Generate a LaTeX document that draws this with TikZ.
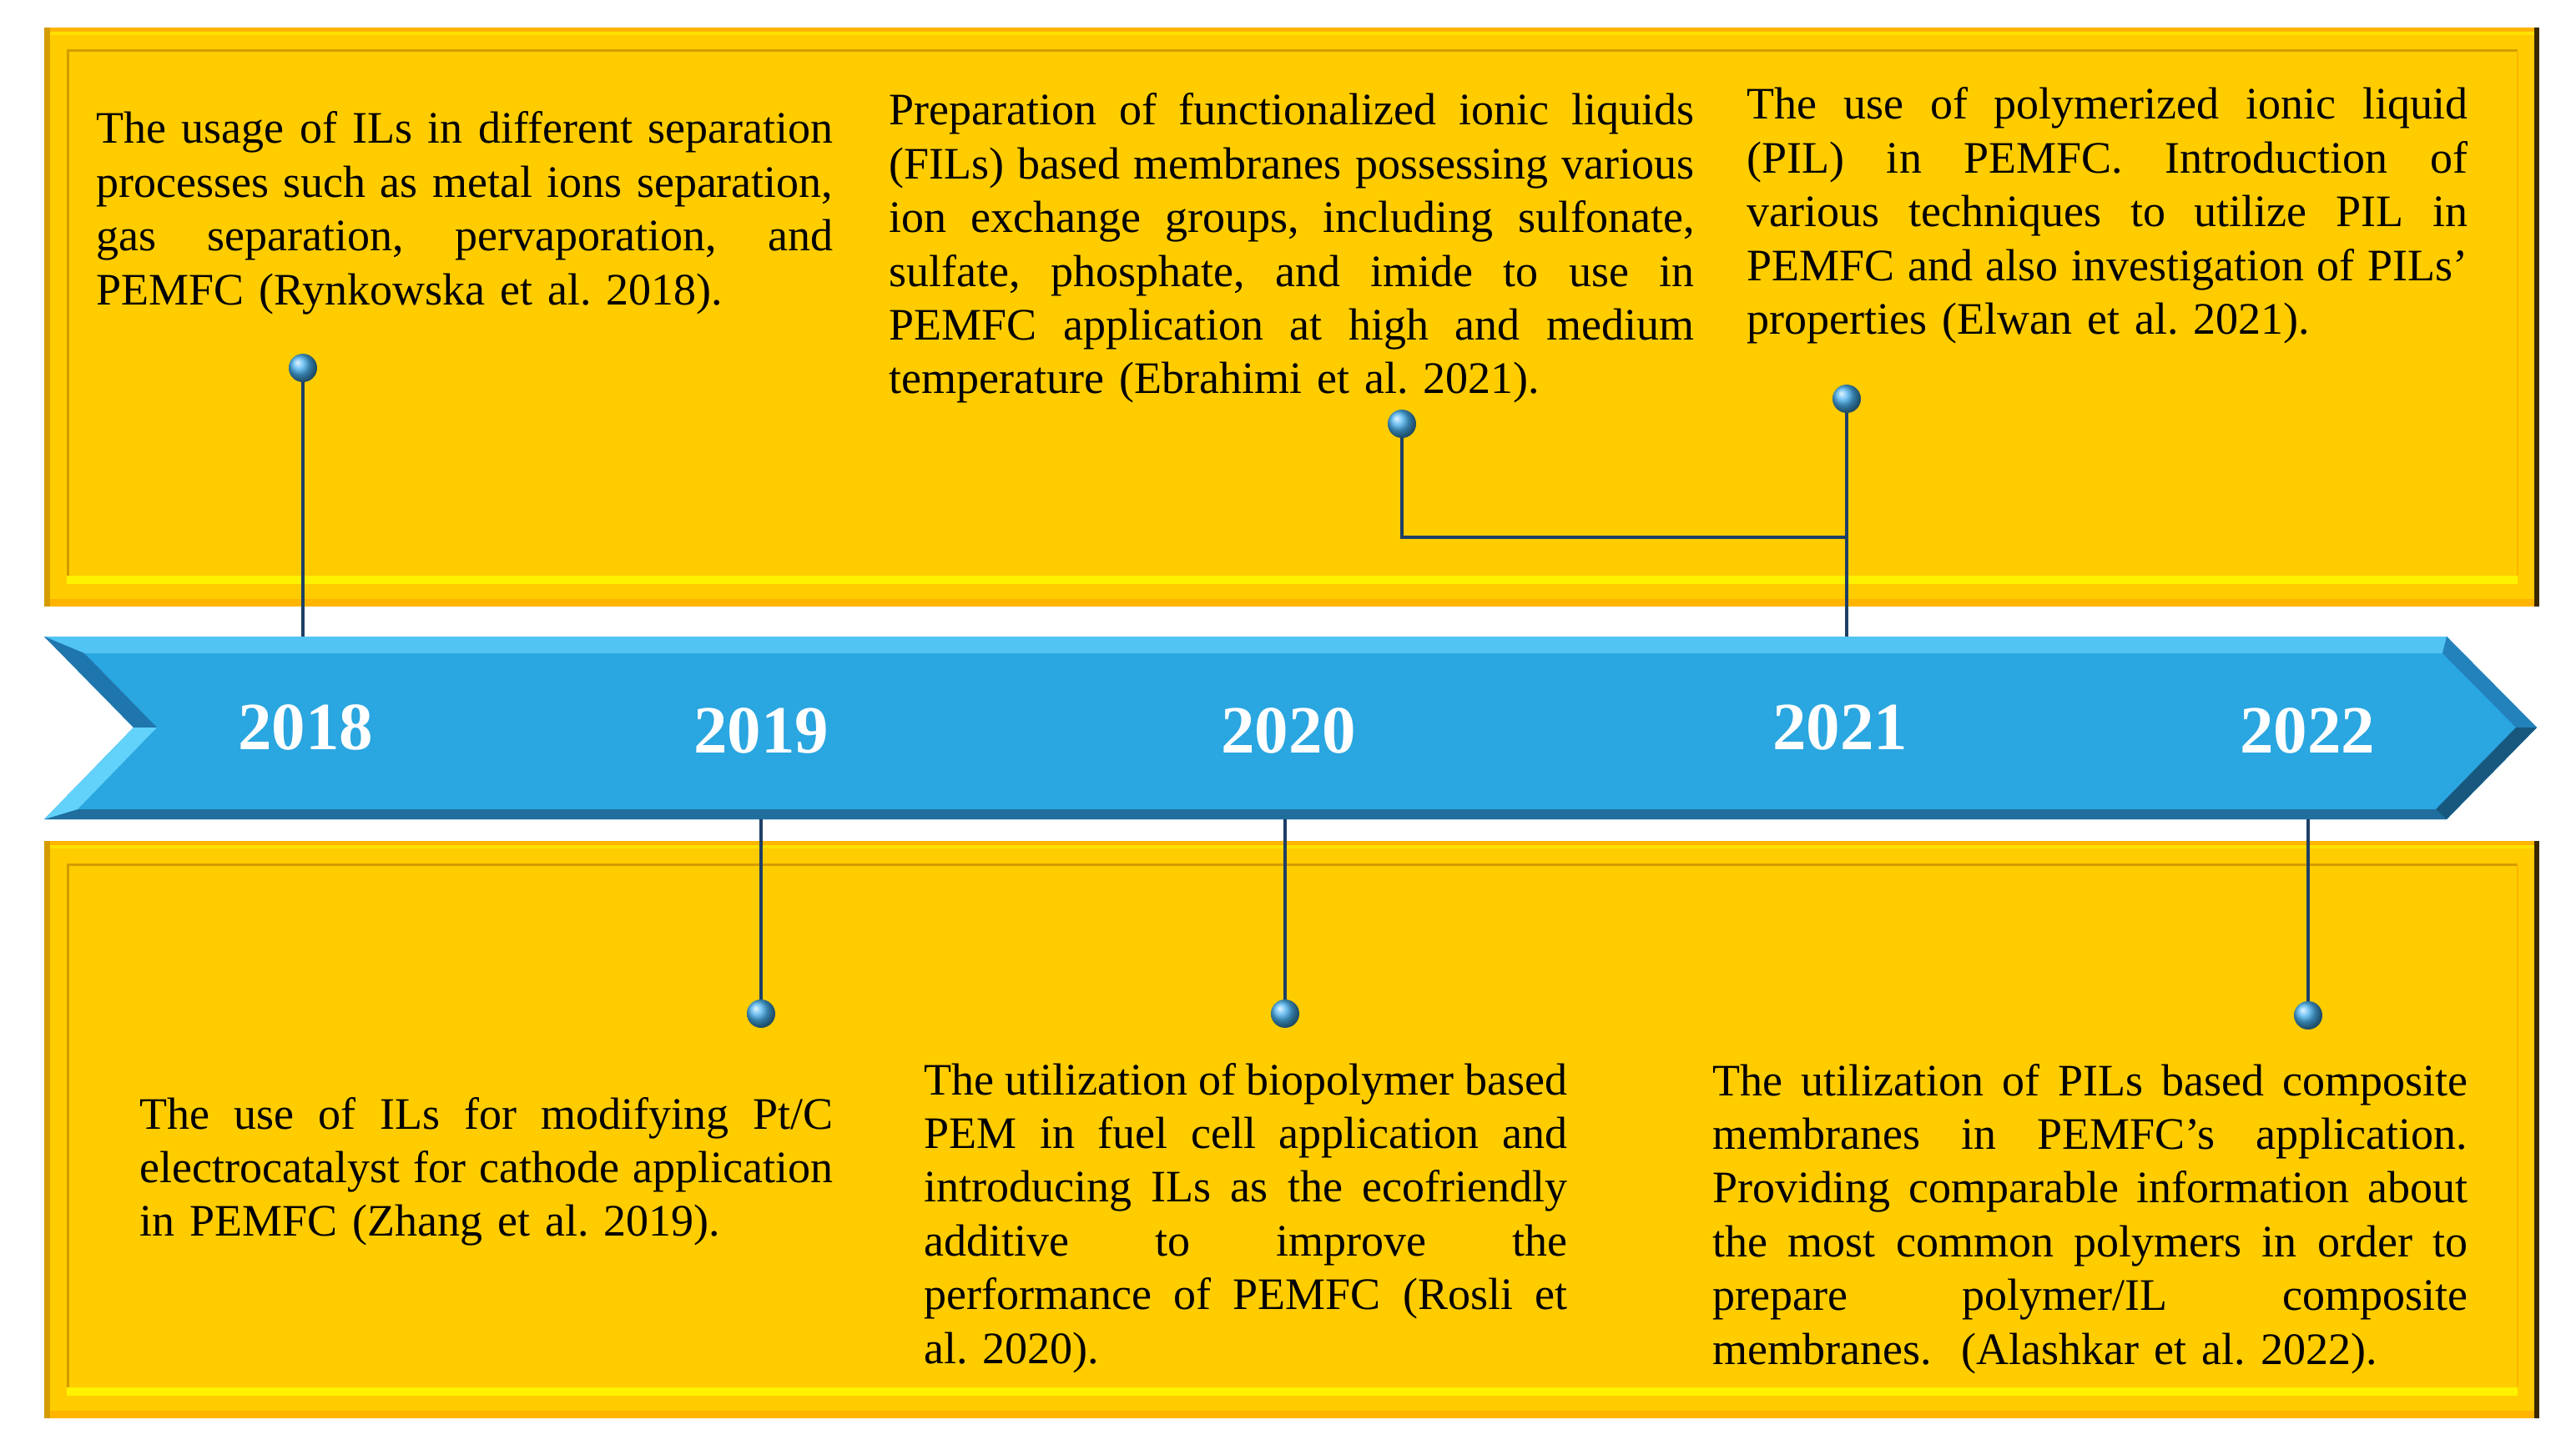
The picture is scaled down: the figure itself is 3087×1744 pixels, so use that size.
\documentclass[tikz,border=0pt]{standalone}
\usepackage{fontspec}
\setmainfont{Liberation Serif}
\frenchspacing
\definecolor{panel}{HTML}{FFCC00}
\definecolor{paneldark}{HTML}{D49C00}
\definecolor{panelorange}{HTML}{FFB400}
\definecolor{panellight}{HTML}{FFE000}
\definecolor{panelbright}{HTML}{FFF200}
\definecolor{panelbrown}{HTML}{3A2800}
\definecolor{arrowblue}{HTML}{2AA6E0}
\definecolor{arrowlight}{HTML}{52C4F4}
\definecolor{arrowlighter}{HTML}{62D2FA}
\definecolor{arrowdark}{HTML}{1F6E9E}
\definecolor{arrowmid}{HTML}{1F76AC}
\definecolor{arrowrmid}{HTML}{2382BC}
\definecolor{arrowdeep}{HTML}{18587F}
\definecolor{linenavy}{HTML}{1E3F66}
\definecolor{dotblue}{HTML}{4AB2F0}
\newcommand{\bevelpanel}[4]{%
  \fill[panel] (#1,#2) rectangle (#3,#4);
  \fill[panelorange] (#1,#2) rectangle (#3,#2+5);
  \fill[panellight] (#1,#2+5) rectangle (#3,#2+9);
  \fill[panelorange] (#1,#4-9) rectangle (#3,#4);
  \fill[paneldark] (#1,#2) rectangle (#1+7,#4);
  \fill[panelbrown] (#3-6,#2) rectangle (#3,#4);
  \fill[panelbright] (#1+27,#4-37) rectangle (#3-26,#4-27);
  \draw[paneldark,line width=1.5pt] (#1+28,#4-37) -- (#1+28,#2+28) -- (#3-26,#2+28);
  \draw[panelorange,line width=1pt] (#3-26,#2+28) -- (#3-26,#4-37);
}
\newlength{\jw}
\newcommand{\jl}[1]{{\spaceskip=0pt\xspaceskip=0pt\hbox to \jw{#1}}}
\tikzset{
  txt/.style={anchor=base west, inner sep=0pt, text width=\jw,
    font=\fontsize{27}{32.2}\selectfont\frenchspacing},
  yr/.style={anchor=base, inner sep=0pt, text=white,
    font=\fontsize{40.5}{48}\selectfont\bfseries},
  dot/.style={circle, minimum size=17pt, inner sep=0pt, shading=ball, ball color=dotblue},
  conn/.style={draw=linenavy, line width=2pt}
}
\begin{document}
\begin{tikzpicture}[x=0.5pt,y=-0.5pt]
\fill[white] (0,0) rectangle (3087,1744);
\useasboundingbox (0,0) rectangle (3087,1744);
% panels
\bevelpanel{53}{33}{3043}{727}
\bevelpanel{53}{1008}{3043}{1700}
% arrow
\fill[arrowblue] (53,763) -- (2932,763) -- (3040,872) -- (2932,982) -- (53,982) -- (160,872) -- cycle;
\fill[arrowlight] (53,763) -- (2932,763) -- (2927,783) -- (101,783) -- cycle;
\fill[arrowdark] (93,970) -- (2919,970) -- (2932,982) -- (53,982) -- cycle;
\fill[arrowmid] (53,763) -- (101,783) -- (188,872) -- (160,872) -- cycle;
\fill[arrowlighter] (160,872) -- (188,872) -- (93,970) -- (53,982) -- cycle;
\fill[arrowrmid] (2932,763) -- (3040,872) -- (3015,872) -- (2927,783) -- cycle;
\fill[arrowdeep] (3040,872) -- (2932,982) -- (2919,970) -- (3015,872) -- cycle;
\coordinate (atop) at (0,763);
\coordinate (abot) at (0,982);
% year labels
\node[yr] (y18) at (366,898) {2018};
\node[yr] (y19) at (912,902) {2019};
\node[yr] (y20) at (1544,902) {2020};
\node[yr] (y21) at (2205,898) {2021};
\node[yr] (y22) at (2765,902) {2022};
% dots
\node[dot] (d18) at (363,441) {};
\node[dot] (dfil) at (1680,508) {};
\node[dot] (d21) at (2213,478) {};
\node[dot] (d19) at (912,1215) {};
\node[dot] (d20) at (1540,1215) {};
\node[dot] (d22) at (2766,1217) {};
\coordinate (jn) at (2213,644);
% connectors
\draw[conn] (d18.south) -- (d18 |- atop);
\draw[conn] (dfil.south) |- (jn);
\draw[conn] (d21.south) -- (d21 |- atop);
\draw[conn] (d19 |- abot) -- (d19.north);
\draw[conn] (d20 |- abot) -- (d20.north);
\draw[conn] (d22 |- abot) -- (d22.north);
% texts
\setlength{\jw}{441.5pt}
\node[txt] (tA) at (115,172) {%
\jl{The usage of ILs in different separation}
\jl{processes such as metal ions separation,}
\jl{gas separation, pervaporation, and}
PEMFC (Rynkowska et al. 2018).};
\setlength{\jw}{482.5pt}
\node[txt] (tB) at (1065,150) {%
\jl{Preparation of functionalized ionic liquids}
\jl{(FILs) based membranes possessing various}
\jl{ion exchange groups, including sulfonate,}
\jl{sulfate, phosphate, and imide to use in}
\jl{PEMFC application at high and medium}
temperature (Ebrahimi et al. 2021).};
\setlength{\jw}{432pt}
\node[txt] (tC) at (2093,143) {%
\jl{The use of polymerized ionic liquid}
\jl{(PIL) in PEMFC. Introduction of}
\jl{various techniques to utilize PIL in}
\jl{PEMFC and also investigation of PILs’}
properties (Elwan et al. 2021).};
\setlength{\jw}{415.5pt}
\node[txt] (tD) at (167,1353) {%
\jl{The use of ILs for modifying Pt/C}
\jl{electrocatalyst for cathode application}
in PEMFC (Zhang et al. 2019).};
\setlength{\jw}{385.5pt}
\node[txt] (tE) at (1107,1312) {%
\jl{The utilization of biopolymer based}
\jl{PEM in fuel cell application and}
\jl{introducing ILs as the ecofriendly}
\jl{additive to improve the}
\jl{performance of PEMFC (Rosli et}
al. 2020).};
\setlength{\jw}{452.5pt}
\node[txt] (tF) at (2052,1313) {%
\jl{The utilization of PILs based composite}
\jl{membranes in PEMFC’s application.}
\jl{Providing comparable information about}
\jl{the most common polymers in order to}
\jl{prepare polymer/IL composite}
membranes.\ \ (Alashkar et al. 2022).};
\end{tikzpicture}
\end{document}
